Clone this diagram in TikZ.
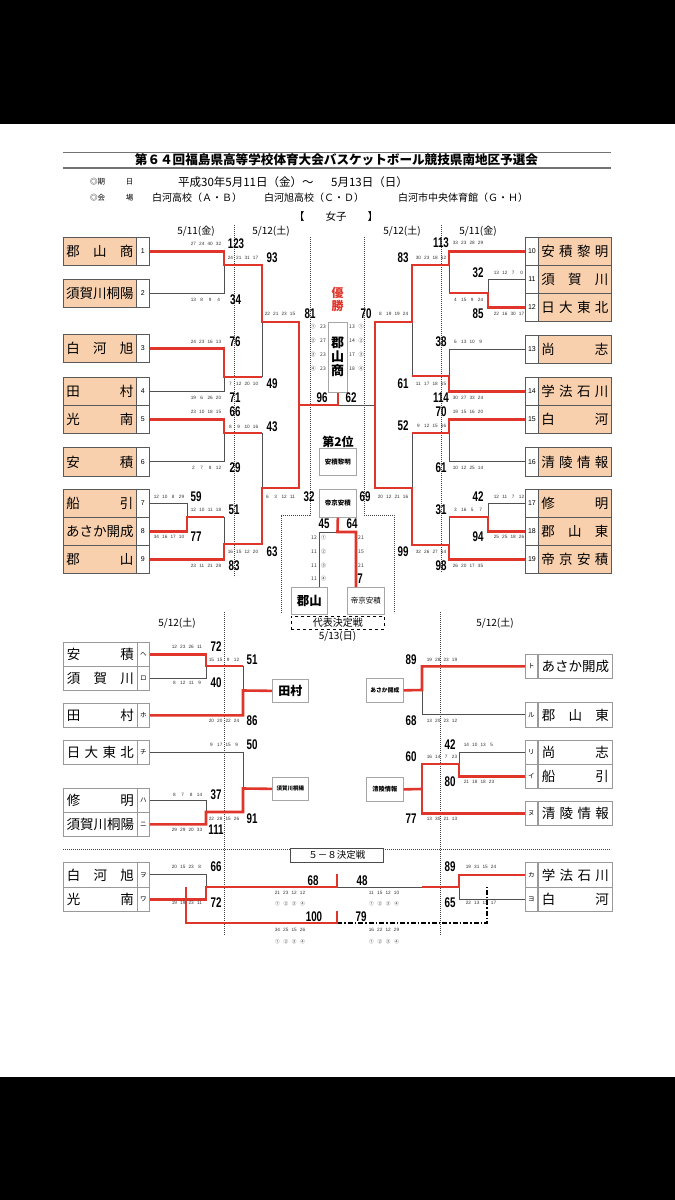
\documentclass[tikz,border=0pt]{standalone}
\usepackage{fontspec}
\setmainfont{Liberation Sans}
\newfontfamily\jp{Noto Sans CJK JP}
\newfontfamily\nfb{Liberation Sans}[FakeStretch=0.7]
\definecolor{rd}{HTML}{E0352B}
\definecolor{peach}{HTML}{F8D0AE}
\definecolor{ln}{HTML}{505050}
\newcommand\qc[1]{\makebox[8.4pt]{#1}}
\newcommand\qs[6]{\node[qsn] (q#1-#2) at (#1,#2) {\qc{#3}\qc{#4}\qc{#5}\qc{#6}};}
\newcommand\tot[3]{\node[totn] (s#1-#2) at (#1,#2) {#3};}
\newcommand\cq[3]{\node[cqn] (c#1-#2) at (#1,#2) {#3};}
\newcommand\circrow[2]{\node[qsn,font=\jp\fontsize{4.6}{5}\selectfont] (o#1-#2) at (#1,#2) {\qc{①}\qc{②}\qc{③}\qc{④}};}
% left team (peach)
\newcommand\LT[5]{%
  \node[tname, anchor=north west, minimum height=#3pt] (#1n) at (63,#2) {\makebox[67pt]{#4}};
  \node[tnum, anchor=north west, minimum height=#3pt] (#1) at (136,#2) {#5};}
\newcommand\RT[5]{%
  \node[tnum, anchor=north west, minimum height=#3pt] (#1) at (525,#2) {#5};
  \node[tname, anchor=north west, minimum height=#3pt] (#1n) at (538,#2) {\makebox[67pt]{#4}};}
\newcommand\LL[5]{%
  \node[lname, anchor=north west, minimum height=#3pt] (#1n) at (63,#2) {\makebox[67pt]{#4}};
  \node[lnum, anchor=north west, minimum height=#3pt] (#1) at (137,#2) {#5};}
\newcommand\LR[5]{%
  \node[lnum, anchor=north west, minimum height=#3pt] (#1) at (525,#2) {#5};
  \node[lname, anchor=north west, minimum height=#3pt] (#1n) at (538,#2) {\makebox[67pt]{#4}};}
\begin{document}
\begin{tikzpicture}[x=1pt,y=-1pt,
  win/.style={draw=rd, line width=2.6pt},
  lose/.style={draw=ln, line width=0.9pt},
  dotl/.style={draw=black!75, line width=0.6pt, dash pattern=on 0.8pt off 1.2pt},
  dashdot/.style={draw=black, line width=1.6pt, dash pattern=on 5pt off 2pt on 1.5pt off 2pt},
  tname/.style={draw=black!65, line width=0.8pt, fill=peach, minimum width=73pt, inner sep=0pt, font=\jp\fontsize{13.5}{14}\selectfont},
  tnum/.style={draw=black!65, line width=0.8pt, fill=white, minimum width=13pt, inner sep=0pt, font=\fontsize{7}{8}\selectfont},
  lname/.style={tname, fill=white, draw=black!40, minimum width=74pt},
  lnum/.style={tnum, draw=black!40, minimum width=12pt, font=\jp\fontsize{6.5}{7}\selectfont},
  totn/.style={font=\nfb\bfseries\fontsize{14}{14}\selectfont, inner sep=0pt},
  qsn/.style={font=\fontsize{4.7}{5}\selectfont, inner sep=0pt, text=black!80, anchor=west},
  cqn/.style={font=\jp\fontsize{5}{5}\selectfont, inner sep=0pt, text=black!80},
  lbl/.style={font=\jp\fontsize{10}{11}\selectfont, inner sep=0pt},
  cbox/.style={draw=black!35, fill=white, line width=0.7pt, inner sep=0pt, anchor=north west}]
\fill[white] (0,0) rectangle (675,1200);
\fill[black] (0,0) rectangle (675,124);
\fill[black] (0,1077) rectangle (675,1200);
\useasboundingbox (0,0) rectangle (675,1200);

% ---------- header ----------
\draw[draw=black!55, line width=1pt] (63,152) -- (611,152);
\draw[draw=black!55, line width=2.2pt] (63,168) -- (611,168);
\node[inner sep=0pt, font=\jp\bfseries\fontsize{12.6}{13}\selectfont] (title) at (336.5,160) {第６４回福島県高等学校体育大会バスケットボール競技県南地区予選会};
\node[inner sep=0pt, anchor=west, font=\jp\fontsize{7.5}{8}\selectfont] (h1) at (90,182) {◎期};
\node[inner sep=0pt, font=\jp\fontsize{7.5}{8}\selectfont] (h1b) at (129.5,182) {日};
\node[inner sep=0pt, anchor=west, font=\jp\fontsize{7.5}{8}\selectfont] (h2) at (90,198) {◎会};
\node[inner sep=0pt, font=\jp\fontsize{7.5}{8}\selectfont] (h2b) at (129.5,198) {場};
\node[inner sep=0pt, anchor=west, font=\jp\fontsize{11.5}{12}\selectfont] (d1t) at (178,182) {平成30年5月11日（金）～};
\node[inner sep=0pt, anchor=west, font=\jp\fontsize{11.5}{12}\selectfont] (d2t) at (331,182) {5月13日（日）};
\node[inner sep=0pt, anchor=west, font=\jp\fontsize{10}{11}\selectfont] (v1) at (152,198) {白河高校（Ａ・Ｂ）};
\node[inner sep=0pt, anchor=west, font=\jp\fontsize{10}{11}\selectfont] (v2) at (264,198) {白河旭高校（Ｃ・Ｄ）};
\node[inner sep=0pt, anchor=west, font=\jp\fontsize{10}{11}\selectfont] (v3) at (398,198) {白河市中央体育館（Ｇ・Ｈ）};
\node[inner sep=0pt, font=\jp\fontsize{10.5}{11}\selectfont] (joshi) at (336,217) {【　　女子　　】};
\node[lbl] (dt1) at (196,231) {5/11(金)};
\node[lbl] (dt2) at (271,231) {5/12(土)};
\node[lbl] (dt3) at (402,231) {5/12(土)};
\node[lbl] (dt4) at (478,231) {5/11(金)};

% dotted guides
\draw[dotl] (234,225) -- (234,577);
\draw[dotl] (441,225) -- (441,572);
\draw[dotl] (310,237) -- (310,515) -- (281,515) -- (281,613);
\draw[dotl] (364,237) -- (364,515) -- (394,515) -- (394,613);

% ---------- teams upper ----------
\LT{t1}{237}{28}{郡\hfill 山\hfill 商}{1}
\LT{t2}{279}{28}{須\hfill 賀\hfill 川\hfill 桐\hfill 陽}{2}
\LT{t3}{334}{28}{白\hfill 河\hfill 旭}{3}
\LT{t4}{377}{28}{田\hfill 村}{4}
\LT{t5}{405}{28}{光\hfill 南}{5}
\LT{t6}{447}{29}{安\hfill 積}{6}
\LT{t7}{489}{28}{船\hfill 引}{7}
\LT{t8}{517}{28}{あ\hfill さ\hfill か\hfill 開\hfill 成}{8}
\LT{t9}{545}{28}{郡\hfill 山}{9}
\RT{r10}{237}{28}{安\hfill 積\hfill 黎\hfill 明}{10}
\RT{r11}{265}{28}{須\hfill 賀\hfill 川}{11}
\RT{r12}{293}{28}{日\hfill 大\hfill 東\hfill 北}{12}
\RT{r13}{335}{28}{尚\hfill 志}{13}
\RT{r14}{377}{28}{学\hfill 法\hfill 石\hfill 川}{14}
\RT{r15}{405}{28}{白\hfill 河}{15}
\RT{r16}{447}{29}{清\hfill 陵\hfill 情\hfill 報}{16}
\RT{r17}{489}{28}{修\hfill 明}{17}
\RT{r18}{517}{28}{郡\hfill 山\hfill 東}{18}
\RT{r19}{545}{28}{帝\hfill 京\hfill 安\hfill 積}{19}

% center boxes
\node[cbox, minimum width=19pt, minimum height=70pt] (champ) at (328,322) {};
\node[inner sep=0pt, align=center, font=\jp\bfseries\fontsize{13}{14}\selectfont] (champt) at (337.5,357) {郡\\山\\商};
\node[cbox, minimum width=37pt, minimum height=27pt, font=\jp\bfseries\fontsize{6.5}{7}\selectfont] (sec) at (319,448) {安積黎明};
\node[cbox, minimum width=37pt, minimum height=28pt, font=\jp\bfseries\fontsize{6.5}{7}\selectfont] (tk) at (319,489) {帝京安積};
\node[cbox, minimum width=36pt, minimum height=27pt, font=\jp\bfseries\fontsize{12.5}{13}\selectfont] (kory) at (291,587) {郡山};
\node[cbox, minimum width=37pt, minimum height=27pt, font=\jp\fontsize{7.5}{8}\selectfont] (tk2) at (347,587) {帝京安積};
\node[draw=black, dashed, line width=0.7pt, fill=white, inner sep=0pt, anchor=north west, minimum width=93pt, minimum height=13pt, font=\jp\fontsize{10}{11}\selectfont] (rep) at (291,616) {代表決定戦};
\node[lbl] (rep2) at (337.5,636) {5/13(日)};
\node[inner sep=0pt, text=rd, font=\jp\bfseries\fontsize{12}{12}\selectfont] (yu) at (337.5,293) {優};
\node[inner sep=0pt, text=rd, font=\jp\bfseries\fontsize{12}{12}\selectfont] (sho) at (337.5,306) {勝};
\node[inner sep=0pt, font=\jp\bfseries\fontsize{12}{12}\selectfont] (second) at (338,442) {第2位};

% ---------- upper bracket lines ----------
\draw[lose] (t2.east) -| (224,265);
\draw[lose] (t4.east) -| (224,377);
\draw[lose] (262,377) -- (262,322);
\draw[lose] (t6.east) -| (224,433);
\draw[lose] (262,433) -- (262,488);
\draw[lose] (t7.east) -| (187,517);
\draw[lose] (224,517) -- (224,544);
\draw[lose] (337.5,405) -- (375,405);
\draw[win] (t1.east) -| (224,265) -- (262,265) -- (262,322) -- (299,322) -- (299,405) -| (champ.south);
\draw[win] (t3.east) -| (224,377) -- (262,377);
\draw[win] (t5.east) -| (224,433) -- (262,433);
\draw[win] (t9.east) -| (224,544) -- (262,544) -- (262,488) -- (299,488) -- (299,405);
\draw[win] (t8.east) -| (187,517) -- (224,517);

\draw[lose] (r11.west) -| (488,293);
\draw[lose] (449,265) -- (449,293);
\draw[lose] (r13.west) -| (449,376);
\draw[lose] (412,376) -- (412,322);
\draw[lose] (r16.west) -| (449,433);
\draw[lose] (412,433) -- (412,488);
\draw[lose] (r17.west) -| (488,517);
\draw[lose] (449,517) -- (449,545);
\draw[win] (r10.west) -| (449,265) -- (412,265) -- (412,322) -- (375,322) -- (375,488) -- (412,488) -- (412,545) -- (449,545) |- (r19.west);
\draw[win] (r12.west) -| (488,293) -- (449,293);
\draw[win] (r14.west) -| (449,376) -- (412,376);
\draw[win] (r15.west) -| (449,433) -- (412,433);
\draw[win] (r18.west) -| (488,517) -- (449,517);

% representative match
\draw[lose] (337.5,532) -- (319,532) -- (319,587);
\draw[win] (tk.south) -- (337.5,532) -- (356,532) -- (356,587);

% ---------- upper scores ----------
\tot{236}{244}{123}\qs{189}{244}{27}{24}{40}{32}
\tot{235.5}{300}{34}\qs{189}{300}{13}{8}{9}{4}
\tot{272}{258}{93}\qs{226}{258}{24}{21}{31}{17}
\tot{310}{314}{81}\qs{263}{314}{22}{21}{23}{15}
\tot{235}{342}{76}\qs{189}{342}{24}{23}{16}{13}
\tot{272}{384}{49}\qs{226}{384}{7}{12}{20}{10}
\tot{235}{398}{71}\qs{189}{398}{19}{6}{26}{20}
\tot{235}{412}{66}\qs{189}{412}{23}{10}{18}{15}
\tot{272}{427}{43}\qs{226}{427}{8}{9}{10}{16}
\tot{235}{468}{29}\qs{189}{468}{2}{7}{8}{12}
\tot{309}{497}{32}\qs{263}{497}{6}{3}{12}{11}
\tot{196}{497}{59}\qs{152}{497}{12}{10}{8}{29}
\tot{234}{510}{51}\qs{189}{510}{12}{10}{11}{18}
\tot{196}{537}{77}\qs{152}{537}{34}{16}{17}{10}
\tot{272}{552}{63}\qs{226}{552}{16}{15}{12}{20}
\tot{234}{566}{83}\qs{189}{566}{23}{11}{21}{28}

\tot{441}{243}{113}\qs{451}{243}{33}{23}{28}{29}
\tot{403}{258}{83}\qs{414}{258}{30}{23}{18}{12}
\tot{478}{273}{32}\qs{492}{273}{13}{12}{7}{0}
\qs{451}{300}{4}{15}{9}{24}
\tot{478}{314}{85}\qs{492}{314}{22}{16}{30}{17}
\tot{366}{314}{70}\qs{376}{314}{8}{19}{19}{24}
\tot{441}{342}{38}\qs{451}{342}{6}{13}{10}{9}
\tot{403}{384}{61}\qs{414}{384}{11}{17}{18}{15}
\tot{441}{398}{114}\qs{451}{398}{30}{27}{33}{24}
\tot{441}{412}{70}\qs{451}{412}{19}{15}{16}{20}
\tot{403}{426}{52}\qs{414}{426}{9}{12}{15}{16}
\tot{441}{468}{61}\qs{451}{468}{10}{12}{25}{14}
\tot{365}{497}{69}\qs{376}{497}{20}{12}{21}{16}
\tot{478}{497}{42}\qs{492}{497}{12}{11}{7}{12}
\tot{441}{510}{31}\qs{451}{510}{3}{16}{5}{7}
\tot{478}{537}{94}\qs{492}{537}{25}{25}{18}{26}
\tot{403}{552}{99}\qs{414}{552}{32}{26}{27}{14}
\tot{441}{566}{98}\qs{451}{566}{26}{20}{17}{35}

% center scores
\tot{322}{398}{96}\tot{351}{398}{62}
\tot{324}{524}{45}\tot{352}{524}{64}
\cq{313}{327}{①}\cq{323}{327}{23}\cq{313}{341}{②}\cq{323}{341}{27}
\cq{313}{355}{③}\cq{323}{355}{23}\cq{313}{369}{④}\cq{323}{369}{23}
\cq{352}{327}{13}\cq{361}{327}{①}\cq{352}{341}{14}\cq{361}{341}{②}
\cq{352}{355}{17}\cq{361}{355}{③}\cq{352}{369}{18}\cq{361}{369}{④}
\cq{314}{538}{12}\cq{323.5}{538}{①}\cq{314}{552}{11}\cq{323.5}{552}{②}
\cq{314}{566}{11}\cq{323.5}{566}{③}\cq{314}{579}{11}\cq{323.5}{579}{④}
\cq{361}{538}{21}\cq{361}{552}{15}\cq{361}{566}{21}
\tot{360}{579}{7}

% ---------- lower section ----------
\node[lbl] (dt5) at (177,623) {5/12(土)};
\node[lbl] (dt6) at (495,623) {5/12(土)};
\draw[dotl] (224,612) -- (224,935);
\draw[dotl] (440,612) -- (440,935);

\LL{b1}{642}{24}{安\hfill 積}{ヘ}
\LL{b2}{666}{24}{須\hfill 賀\hfill 川}{ロ}
\LL{b3}{703}{24}{田\hfill 村}{ホ}
\LL{b4}{740}{24}{日\hfill 大\hfill 東\hfill 北}{チ}
\LL{b5}{788}{24}{修\hfill 明}{ハ}
\LL{b6}{812}{24}{須\hfill 賀\hfill 川\hfill 桐\hfill 陽}{ニ}
\LR{c1}{654}{24}{あ\hfill さ\hfill か\hfill 開\hfill 成}{ト}
\LR{c2}{702}{25}{郡\hfill 山\hfill 東}{ル}
\LR{c3}{740}{24}{尚\hfill 志}{リ}
\LR{c4}{764}{24}{船\hfill 引}{イ}
\LR{c5}{801}{24}{清\hfill 陵\hfill 情\hfill 報}{ヌ}

\node[cbox, minimum width=36pt, minimum height=23pt, font=\jp\bfseries\fontsize{12}{12}\selectfont] (res1) at (272,679) {田村};
\node[cbox, minimum width=36pt, minimum height=23pt, font=\jp\bfseries\fontsize{5.5}{6}\selectfont] (res2) at (272,777) {須賀川桐陽};
\node[cbox, minimum width=37pt, minimum height=24pt, font=\jp\bfseries\fontsize{5.8}{6}\selectfont] (res3) at (366,678) {あさか開成};
\node[cbox, minimum width=37pt, minimum height=24pt, font=\jp\bfseries\fontsize{6.2}{7}\selectfont] (res4) at (366,777) {清陵情報};

\draw[lose] (b2.east) -| (206,666);
\draw[lose] (243,666) -- (243,690.5);
\draw[lose] (b4.east) -| (243,788.5);
\draw[lose] (b5.east) -| (206,812);
\draw[win] (b1.east) -| (206,666) -- (243,666);
\draw[win] (b3.east) -| (243,690.5) -- (res1.west);
\draw[win] (b6.east) -| (206,812) -- (243,812) -- (243,788.5) -- (res2.west);

\draw[lose] (c2.west) -| (422,690);
\draw[lose] (c3.west) -| (459,764);
\draw[win] (c1.west) -| (422,690) -- (res3.east);
\draw[win] (c4.west) -| (459,764) -- (422,764) |- (c5.west);
\draw[win] (422,789) -- (res4.east);

\tot{216}{647}{72}\qs{170}{647}{12}{23}{26}{11}
\tot{216}{683}{40}\qs{170}{683}{8}{12}{11}{9}
\tot{252}{660}{51}\qs{207}{660}{15}{15}{9}{12}
\tot{252}{721}{86}\qs{207}{721}{20}{20}{22}{24}
\tot{252}{745}{50}\qs{207}{745}{9}{17}{15}{9}
\tot{216}{795}{37}\qs{170}{795}{8}{7}{8}{14}
\tot{252}{819}{91}\qs{207}{819}{22}{28}{15}{26}
\tot{216}{830}{111}\qs{170}{830}{29}{29}{20}{33}

\tot{411}{660}{89}\qs{425}{660}{19}{28}{23}{19}
\tot{411}{721}{68}\qs{425}{721}{13}{20}{23}{12}
\tot{450}{745}{42}\qs{462}{745}{14}{10}{13}{5}
\tot{411}{757}{60}\qs{425}{757}{16}{14}{7}{23}
\tot{450}{782}{80}\qs{462}{782}{21}{18}{18}{23}
\tot{411}{819}{77}\qs{425}{819}{13}{30}{21}{13}

% ---------- 5-8 ----------
\draw[dotl] (63,849) -- (611,849);
\node[cbox, draw=black!70, minimum width=93pt, minimum height=14pt, font=\jp\fontsize{9.5}{10}\selectfont] (r58) at (290,848) {５－８決定戦};
\LL{d1}{862}{25}{白\hfill 河\hfill 旭}{ヲ}
\LL{d2}{887}{24}{光\hfill 南}{ワ}
\LR{e1}{862}{25}{学\hfill 法\hfill 石\hfill 川}{カ}
\LR{e2}{887}{24}{白\hfill 河}{ヨ}

\draw[lose] (d1.east) -| (206,887);
\draw[lose] (337,887) -- (422,887);
\draw[lose] (459,887) |- (e2.west);
\draw[dashdot] (337,923) -- (487,923) -- (487,887);
\draw[win] (d2.east) -| (206,887) -- (337,887) -- (337,874);
\draw[win] (186,887) -- (186,923) -- (337,923) -- (337,911);
\draw[win] (422,887) -- (459,887) |- (e1.west);

\tot{216}{867}{66}\qs{170}{867}{20}{15}{23}{8}
\tot{216}{903}{72}\qs{170}{903}{19}{19}{23}{11}
\tot{313}{881}{68}\qs{273}{893}{21}{23}{12}{12}\circrow{273}{904}
\tot{362}{881}{48}\qs{367}{893}{11}{15}{12}{10}\circrow{367}{904}
\tot{314}{917}{100}\qs{273}{930}{34}{25}{15}{26}\circrow{273}{942}
\tot{361}{917}{79}\qs{367}{930}{16}{22}{12}{29}\circrow{367}{942}
\tot{450}{867}{89}\qs{464}{867}{19}{31}{15}{24}
\tot{450}{903}{65}\qs{464}{903}{22}{13}{13}{17}
\end{tikzpicture}
\end{document}
